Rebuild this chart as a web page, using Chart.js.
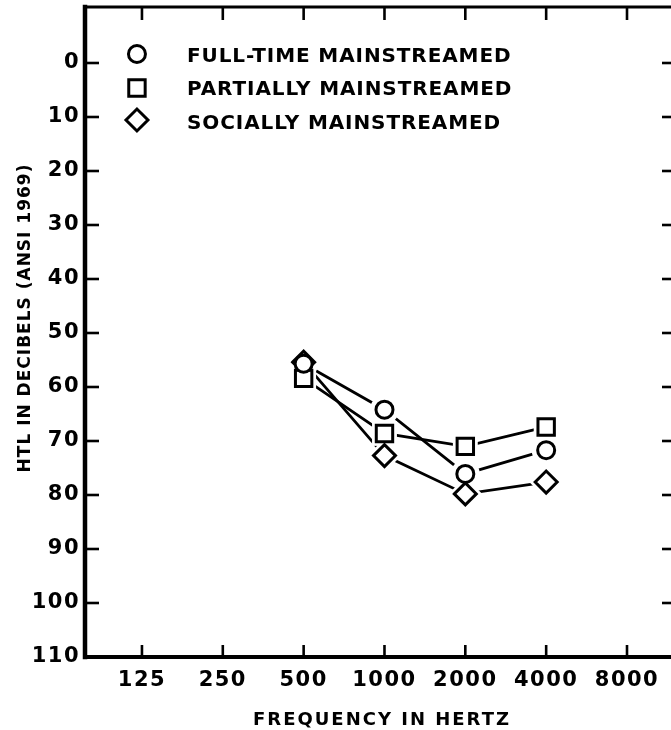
<!DOCTYPE html>
<html><head><meta charset="utf-8">
<script src="https://cdn.jsdelivr.net/npm/chart.js@4.4.1/dist/chart.umd.min.js"></script>
<style>
html,body{margin:0;padding:0;background:#fff;overflow:hidden;width:671px;height:730px}
#wrap{position:relative;width:690px;height:730px}
</style></head>
<body><div id="wrap"><canvas id="c" width="690" height="730"></canvas></div>
<script>
// ---- data ----
const FREQUENCIES = [125, 250, 500, 1000, 2000, 4000, 8000];
const MEASURED_FREQS = [500, 1000, 2000, 4000];
const HTL_TICKS = [0, 10, 20, 30, 40, 50, 60, 70, 80, 90, 100, 110];
const SERIES_NAMES = ['FULL-TIME MAINSTREAMED', 'PARTIALLY MAINSTREAMED', 'SOCIALLY MAINSTREAMED'];
const FULL_TIME = [55.7, 64.2, 76.1, 71.7];
const PARTIALLY = [58.4, 68.6, 71.0, 67.4];
const SOCIALLY = [55.4, 72.7, 79.8, 77.6];
const X_TITLE = 'FREQUENCY IN HERTZ';
const Y_TITLE = 'HTL IN DECIBELS (ANSI 1969)';

// ---- styles ----
const SERIES = [FULL_TIME, PARTIALLY, SOCIALLY];
const STYLES = [
  {pointStyle: 'circle', radius: 8.5, legendRadius: 8.5},
  {pointStyle: 'rect', radius: 11.6, legendRadius: 11.6},
  {pointStyle: 'rectRot', radius: 11, legendRadius: 11}
];
const toPts = vals => MEASURED_FREQS.map((f, i) => ({x: f, y: vals[i]}));

const datasets = [];
SERIES.forEach((vals, i) => {
  datasets.push({ // connecting line
    label: SERIES_NAMES[i] + ' line', data: toPts(vals), order: 3,
    borderColor: '#000', borderWidth: 2.8, pointRadius: 0, showLine: true, fill: false, tension: 0
  });
  datasets.push({ // white halo making the gap around the marker
    label: SERIES_NAMES[i] + ' halo', data: toPts(vals), order: 2, showLine: false,
    pointStyle: STYLES[i].pointStyle, pointRadius: STYLES[i].radius + 6,
    pointBackgroundColor: '#fff', pointBorderColor: '#fff', pointBorderWidth: 0
  });
  datasets.push({ // marker
    label: SERIES_NAMES[i], data: toPts(vals), order: 1, showLine: false,
    pointStyle: STYLES[i].pointStyle, pointRadius: STYLES[i].radius,
    pointBackgroundColor: '#fff', pointBorderColor: '#000', pointBorderWidth: 3
  });
});

function line(ctx, x1, y1, x2, y2) { ctx.beginPath(); ctx.moveTo(x1, y1); ctx.lineTo(x2, y2); ctx.stroke(); }

const framePlugin = {
  id: 'frame',
  beforeDraw(chart) { chart.ctx.letterSpacing = '1.5px'; },
  beforeDatasetsDraw(chart) { chart.ctx.letterSpacing = '0px'; },
  afterDraw(chart) {
    const ctx = chart.ctx;
    const {left, right, top, bottom} = chart.chartArea;
    const xs = chart.scales.x, ys = chart.scales.y;
    ctx.save();
    ctx.strokeStyle = '#000';
    ctx.lineCap = 'butt';
    ctx.lineWidth = 2.6;
    xs.ticks.forEach(t => {
      const px = xs.getPixelForValue(t.value);
      line(ctx, px, bottom, px, bottom - 12);
      line(ctx, px, top, px, top + 13);
    });
    ys.ticks.forEach(t => {
      const py = ys.getPixelForValue(t.value);
      line(ctx, left, py, left + 14, py);
      line(ctx, right, py, right - 14, py);
    });
    ctx.lineCap = 'square';
    ctx.lineWidth = 3; line(ctx, left, top, right, top);
    ctx.lineWidth = 4.5; line(ctx, left, top, left, bottom);
    ctx.lineWidth = 4; line(ctx, left, bottom, right, bottom);

    // legend
    const lx = xs.getPixelForValue(FREQUENCIES[0]) - 5;
    const markerY = [top + 47, top + 81, top + 113];
    const textBase = [top + 55, top + 88, top + 122];
    ctx.fillStyle = '#000';
    ctx.font = 'bold 20px "DejaVu Sans"';
    ctx.letterSpacing = '0.9px';
    ctx.textAlign = 'left';
    ctx.textBaseline = 'alphabetic';
    SERIES_NAMES.forEach((name, i) => {
      ctx.save();
      ctx.lineWidth = 3; ctx.strokeStyle = '#000'; ctx.fillStyle = '#fff';
      Chart.helpers.drawPoint(ctx, {pointStyle: STYLES[i].pointStyle, radius: STYLES[i].legendRadius, borderWidth: 3}, lx, markerY[i]);
      ctx.restore();
      ctx.fillText(name, 187, textBase[i]);
    });

    // axis titles
    ctx.font = 'bold 18px "DejaVu Sans"';
    ctx.letterSpacing = '2px';
    ctx.textAlign = 'center';
    ctx.fillText(X_TITLE, 382, 725);
    ctx.save();
    ctx.translate(30, 318);
    ctx.rotate(-Math.PI / 2);
    ctx.font = 'bold 17px "DejaVu Sans"';
    ctx.letterSpacing = '1px';
    ctx.fillText(Y_TITLE, 0, 0);
    ctx.restore();
    ctx.restore();
  }
};

const zeroPad = s => { s.paddingTop = 0; s.paddingBottom = 0; s.paddingLeft = 0; s.paddingRight = 0; };

new Chart(document.getElementById('c'), {
  type: 'scatter',
  data: {datasets},
  plugins: [framePlugin],
  options: {
    responsive: false, animation: false, devicePixelRatio: 1,
    layout: {autoPadding: false, padding: {top: 7, right: 14, left: 0, bottom: 0}},
    plugins: {legend: {display: false}, tooltip: {enabled: false}},
    scales: {
      x: {
        type: 'logarithmic', position: 'bottom',
        min: 76.7, max: 12177,
        afterBuildTicks: s => { s.ticks = FREQUENCIES.map(v => ({value: v})); },
        afterFit: s => { s.height = 73; zeroPad(s); },
        grid: {display: false, drawTicks: false}, border: {display: false},
        ticks: {color: '#000', font: {family: 'DejaVu Sans', size: 21, weight: 'bold'}, padding: 11, maxRotation: 0, autoSkip: false,
          callback: v => String(v)}
      },
      y: {
        type: 'linear', position: 'left', reverse: true,
        min: -10.37, max: 110,
        afterBuildTicks: s => { s.ticks = HTL_TICKS.map(v => ({value: v})); },
        afterFit: s => { s.width = 85; zeroPad(s); },
        grid: {display: false, drawTicks: false}, border: {display: false},
        ticks: {color: '#000', font: {family: 'DejaVu Sans', size: 21, weight: 'bold'}, padding: 5, autoSkip: false,
          callback: v => String(v)}
      }
    }
  }
});
</script>
</body></html>
